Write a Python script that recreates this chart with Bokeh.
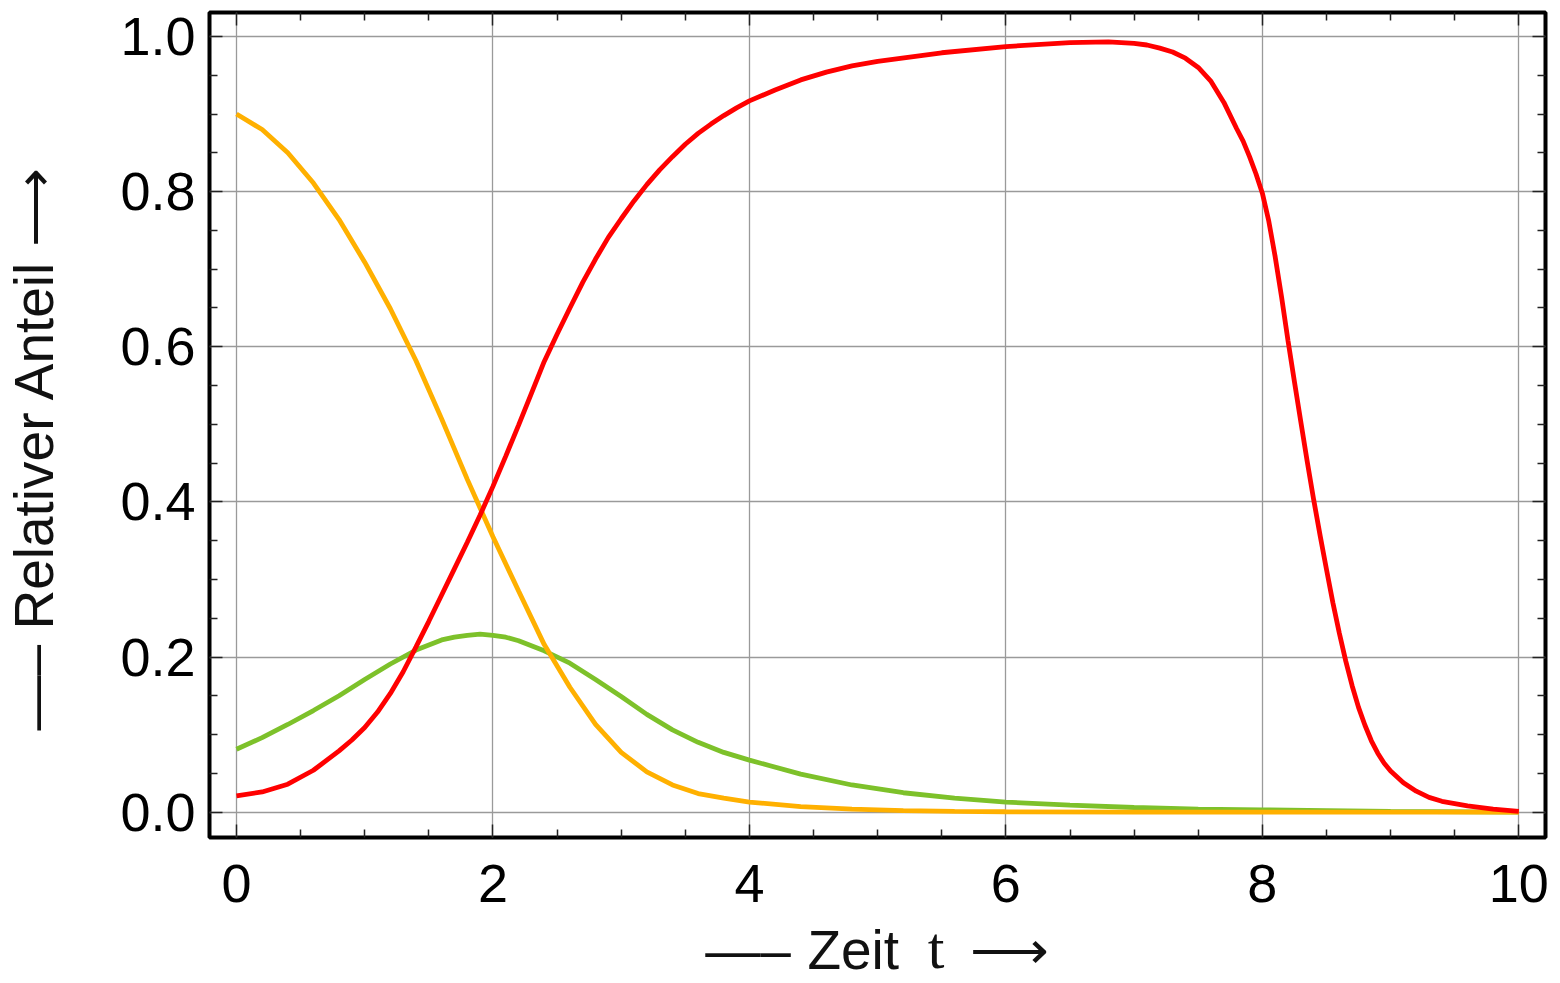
from bokeh.plotting import figure
from bokeh.models import (Range1d, LinearAxis, FixedTicker, PrintfTickFormatter)
from bokeh.embed import file_html
from bokeh.resources import INLINE

# ---------------- data ----------------
t_orange = [0.0, 0.2, 0.4, 0.6, 0.8, 1.0, 1.2, 1.4, 1.6, 1.8, 2.0, 2.2, 2.4, 2.6, 2.8,
            3.0, 3.2, 3.4, 3.6, 3.8, 4.0, 4.4, 4.8, 5.2, 5.6, 6.0, 7.0, 8.0, 9.0, 10.0]
v_orange = [0.900, 0.880, 0.850, 0.811, 0.764, 0.709, 0.649, 0.582, 0.507, 0.429, 0.355,
            0.285, 0.216, 0.161, 0.113, 0.077, 0.052, 0.035, 0.024, 0.018, 0.013, 0.007,
            0.004, 0.002, 0.001, 0.0005, 0.0, 0.0, 0.0, 0.0]

t_green = [0.0, 0.2, 0.4, 0.6, 0.8, 1.0, 1.2, 1.4, 1.6, 1.7, 1.8, 1.9, 2.0, 2.1, 2.2,
           2.4, 2.6, 2.8, 3.0, 3.2, 3.4, 3.6, 3.8, 4.0, 4.4, 4.8, 5.2, 5.6, 6.0, 6.5,
           7.0, 7.5, 8.0, 8.5, 9.0, 10.0]
v_green = [0.081, 0.096, 0.113, 0.131, 0.150, 0.171, 0.191, 0.209, 0.222, 0.2255, 0.228,
           0.2295, 0.228, 0.2255, 0.221, 0.208, 0.192, 0.171, 0.149, 0.126, 0.106, 0.090,
           0.077, 0.067, 0.049, 0.035, 0.025, 0.018, 0.013, 0.009, 0.006, 0.004, 0.003,
           0.002, 0.001, 0.0]

t_red = [0.0, 0.2, 0.4, 0.6, 0.8, 0.9, 1.0, 1.1, 1.2, 1.3, 1.4, 1.5, 1.6, 1.7, 1.8,
         1.9, 2.0, 2.1, 2.2, 2.3, 2.4, 2.5, 2.6, 2.7, 2.8, 2.9, 3.0, 3.1, 3.2, 3.3,
         3.4, 3.5, 3.6, 3.7, 3.8, 3.9, 4.0, 4.2, 4.4, 4.6, 4.8, 5.0, 5.5, 6.0, 6.5,
         6.8, 7.0, 7.1, 7.2, 7.3, 7.4, 7.5, 7.6, 7.7, 7.8, 7.85, 7.9, 7.95, 8.0, 8.05,
         8.1, 8.15, 8.2, 8.25, 8.3, 8.35, 8.4, 8.45, 8.5, 8.55, 8.6, 8.65, 8.7, 8.75,
         8.8, 8.85, 8.9, 8.95, 9.0, 9.1, 9.2, 9.3, 9.4, 9.6, 9.8, 10.0]
v_red = [0.021, 0.026, 0.036, 0.054, 0.079, 0.093, 0.109, 0.129, 0.153, 0.181, 0.213,
         0.246, 0.280, 0.314, 0.348, 0.383, 0.420, 0.459, 0.499, 0.540, 0.581, 0.616,
         0.650, 0.683, 0.713, 0.741, 0.765, 0.788, 0.809, 0.828, 0.845, 0.861, 0.875,
         0.887, 0.898, 0.908, 0.917, 0.931, 0.944, 0.954, 0.962, 0.968, 0.979, 0.987,
         0.992, 0.993, 0.991, 0.989, 0.985, 0.980, 0.972, 0.960, 0.942, 0.915, 0.881,
         0.865, 0.845, 0.823, 0.798, 0.762, 0.716, 0.664, 0.608, 0.555, 0.503, 0.452,
         0.403, 0.357, 0.313, 0.270, 0.231, 0.195, 0.163, 0.135, 0.112, 0.092, 0.076,
         0.063, 0.053, 0.038, 0.027, 0.019, 0.014, 0.008, 0.004, 0.001]

x_ticks = [0, 2, 4, 6, 8, 10]
x_minor = [0.5 * i for i in range(21) if i % 4 != 0]
y_ticks = [0.0, 0.2, 0.4, 0.6, 0.8, 1.0]
y_minor = [0.05 * i for i in range(21) if i % 4 != 0]

# x title pieces: "— Zeit  t →"  (positions along the time axis)
x_title_pos = [3.99, 4.81, 6.03]
x_title_txt = ["\u2014\u2013", "Zeit", "\u27F6"]
x_title_var = "t"
y_title = "\u2014\u2013 Relativer Anteil \u27F6" + "\u00a0" * 3

FONT = "Liberation Sans"
INK = "#111111"

p = figure(width=1552, height=983, output_backend="svg", toolbar_location=None,
           x_range=Range1d(-0.2104, 10.208), y_range=Range1d(-0.0327, 1.0309),
           min_border_left=208, min_border_right=7, min_border_top=12, min_border_bottom=146)
p.background_fill_color = "white"
p.border_fill_color = "white"
p.outline_line_color = "black"
p.outline_line_width = 4

xt = FixedTicker(ticks=x_ticks, minor_ticks=x_minor)
yt = FixedTicker(ticks=y_ticks, minor_ticks=y_minor)

p.xgrid.ticker = xt
p.ygrid.ticker = yt
p.grid.grid_line_color = "#9a9a9a"
p.grid.grid_line_width = 1.3

def style_axis(ax, ticker, show_labels, standoff=0):
    ax.ticker = ticker
    ax.axis_line_color = None
    ax.major_tick_in = 13
    ax.major_tick_out = 0
    ax.minor_tick_in = 8
    ax.minor_tick_out = 0
    ax.major_tick_line_color = "#222222"
    ax.minor_tick_line_color = "#222222"
    ax.major_tick_line_width = 1.5
    ax.minor_tick_line_width = 1.5
    if show_labels:
        ax.major_label_text_font = FONT
        ax.major_label_text_font_size = "54px"
        ax.major_label_text_color = "black"
        ax.major_label_standoff = standoff
    else:
        ax.major_label_text_font_size = "1px"
        ax.major_label_text_color = None
        ax.major_label_standoff = 0

style_axis(p.xaxis[0], xt, True, 27)
p.xaxis[0].formatter = PrintfTickFormatter(format="%d")
style_axis(p.yaxis[0], yt, True, 14)
p.yaxis[0].formatter = PrintfTickFormatter(format="%.1f")

# y title as the axis label of the left axis
ya = p.yaxis[0]
ya.axis_label = y_title
ya.axis_label_text_font = FONT
ya.axis_label_text_font_size = "55px"
ya.axis_label_text_font_style = "normal"
ya.axis_label_text_color = INK
ya.axis_label_standoff = 52

top = LinearAxis()
style_axis(top, xt, False)
p.add_layout(top, "above")
right = LinearAxis()
style_axis(right, yt, False)
p.add_layout(right, "right")

# second bottom axis that carries the x title pieces as its labels
xtitle = LinearAxis(ticker=FixedTicker(ticks=x_title_pos),
                    major_label_overrides=dict(zip(x_title_pos, x_title_txt)))
xtitle.axis_line_color = None
xtitle.major_tick_line_color = None
xtitle.minor_tick_line_color = None
xtitle.major_tick_in = 0
xtitle.major_tick_out = 0
xtitle.minor_tick_in = 0
xtitle.minor_tick_out = 0
xtitle.major_label_text_font = FONT
xtitle.major_label_text_font_size = "55px"
xtitle.major_label_text_color = INK
xtitle.major_label_standoff = 14
xtitle.axis_label = "\u00a0" * 7 + "\u2009" + x_title_var
xtitle.axis_label_text_font = "Liberation Serif"
xtitle.axis_label_text_font_size = "60px"
xtitle.axis_label_text_font_style = "normal"
xtitle.axis_label_text_color = INK
xtitle.axis_label_standoff = -69
p.add_layout(xtitle, "below")

p.line(t_green, v_green, line_color="#7DC12A", line_width=4.8)
p.line(t_orange, v_orange, line_color="#FFB000", line_width=4.8)
p.line(t_red, v_red, line_color="#FF0000", line_width=4.8)

open("out.html", "w").write(file_html(p, INLINE))
